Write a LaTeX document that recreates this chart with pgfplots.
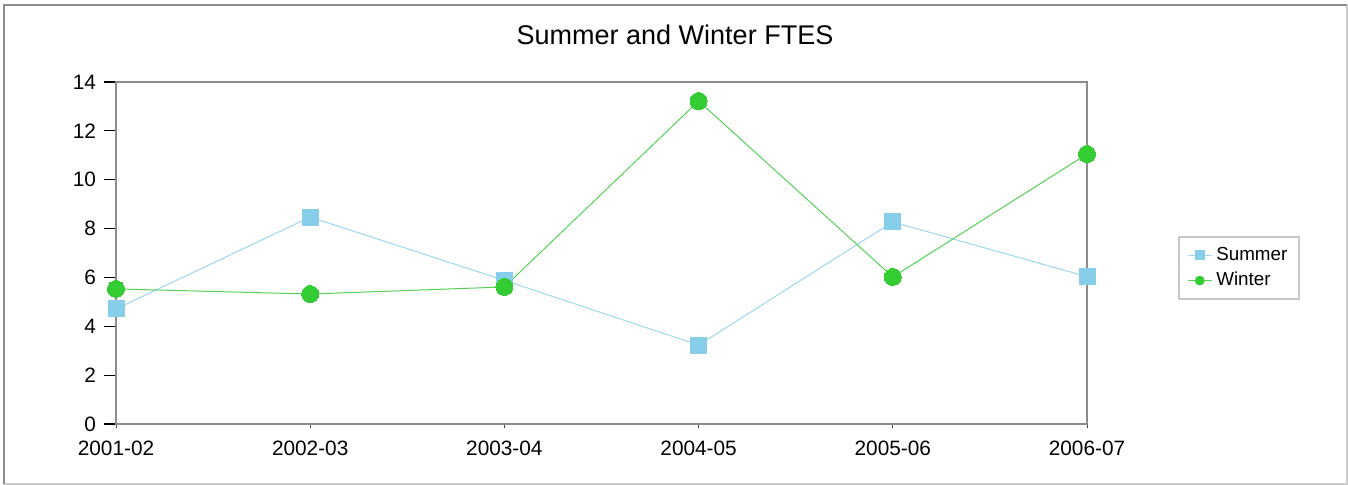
\documentclass[border=0pt]{standalone}
\usepackage{pgfplots}
\pgfplotsset{compat=1.18}
\usepackage{fontspec}
\setmainfont{Liberation Sans}
\definecolor{sumc}{HTML}{87CEEB}
\definecolor{sumline}{HTML}{9ED6EE}
\definecolor{winc}{HTML}{33CC33}
\definecolor{winline}{HTML}{55D155}
\definecolor{axc}{HTML}{8C8C8C}
\begin{document}
\begin{tikzpicture}
\useasboundingbox (0pt,0pt) rectangle (674pt,242.5pt);
\fill[white] (0pt,0pt) rectangle (674pt,242.5pt);
% outer frame
\draw[color=black!20, line width=1.2pt] (673.5pt,240pt) -- (673.5pt,0.5pt) -- (2pt,0.5pt);
\draw[color=black!45, line width=1.2pt] (2pt,0.5pt) -- (2pt,240pt) -- (673.5pt,240pt);
\node[font=\fontsize{13.5}{16}\selectfont] at (337.5pt,225pt) {Summer and Winter FTES};
% y ticks (longer) in a twin axis
\begin{axis}[
  at={(58pt,30.5pt)}, anchor=south west,
  scale only axis, width=485.5pt, height=171pt,
  xmin=0, xmax=5, ymin=0, ymax=14,
  xtick=\empty,
  ytick={0,2,4,6,8,10,12,14},
  tick align=outside,
  major tick length=6pt,
  y tick style={color=black, line width=0.6pt},
  ytick pos=left,
  hide x axis,
  axis line style={color=axc, line width=0.75pt},
  tick label style={font=\fontsize{10.4}{12}\selectfont},
  /pgf/number format/assume math mode=true,
  yticklabel style={xshift=-0.5pt},
]
\end{axis}
\begin{axis}[
  at={(58pt,30.5pt)}, anchor=south west,
  scale only axis, width=485.5pt, height=171pt,
  xmin=0, xmax=5, ymin=0, ymax=14,
  xtick={0,1,2,3,4,5},
  xticklabels={2001-02,2002-03,2003-04,2004-05,2005-06,2006-07},
  ytick=\empty,
  tick align=outside,
  major tick length=2pt,
  x tick style={color=black!70, line width=0.5pt},
  xtick pos=bottom,
  axis line style={color=axc, line width=0.75pt},
  tick label style={font=\fontsize{10.4}{12}\selectfont},
  xticklabel style={yshift=-3pt},
  legend style={at={(1.094,0.456)}, anchor=west, draw=black!22, line width=1pt,
    font=\fontsize{9.4}{11}\selectfont, inner xsep=4pt, inner ysep=3pt,
    row sep=0.5pt, cells={anchor=west}},
  legend cell align=left,
  clip=false,
]
\addplot[color=sumline, line width=0.5pt, mark=square*, mark size=4pt,
  mark options={draw=sumc, fill=sumc, line width=0pt},
  legend image code/.code={\draw[sumline, line width=0.5pt] (0cm,0cm) -- (12pt,0cm);
    \fill[sumc] (6pt-2.3pt,-2.3pt) rectangle (6pt+2.3pt,2.3pt);}]
coordinates {(0,4.71) (1,8.47) (2,5.88) (3,3.23) (4,8.27) (5,6.03)};
\addlegendentry{Summer}
\addplot[color=winline, line width=0.5pt, mark=*, mark size=4.25pt,
  mark options={draw=winc, fill=winc, line width=0pt},
  legend image code/.code={\draw[winline, line width=0.5pt] (0cm,0cm) -- (12pt,0cm);
    \fill[winc] (6pt,0cm) circle (2.2pt);}]
coordinates {(0,5.53) (1,5.32) (2,5.61) (3,13.22) (4,6.02) (5,11.05)};
\addlegendentry{Winter}
\end{axis}
\end{tikzpicture}
\end{document}
